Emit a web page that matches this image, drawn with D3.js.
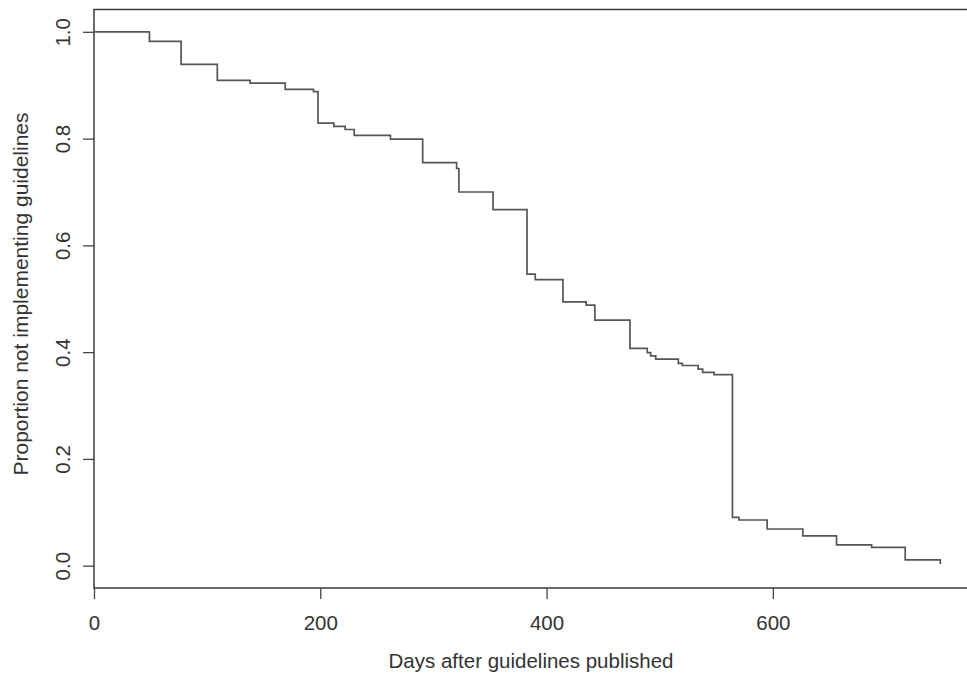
<!DOCTYPE html>
<html>
<head>
<meta charset="utf-8">
<script src="https://cdn.jsdelivr.net/npm/d3@7"></script>
<style>
  body { margin: 0; background: #fff; }
  text { font-family: "Liberation Sans", Arial, sans-serif; fill: #333; }
</style>
</head>
<body>
<svg id="chart"></svg>
<script>
// step times (days) and proportion not implementing after each step
var days = [0, 49, 77, 109, 138, 169, 194, 198, 212, 222, 230, 262, 290.5, 320.5, 322.5,
  352.7, 382.7, 390, 414.5, 435, 442.7, 473.7, 489, 492, 496.5, 516.5, 520, 534, 538, 548,
  564.3, 570, 595, 626.5, 656.3, 687.3, 717, 748];
var proportion = [1.0, 0.982, 0.939, 0.909, 0.904, 0.892, 0.888, 0.829, 0.823, 0.817, 0.806,
  0.799, 0.755, 0.744, 0.700, 0.667, 0.546, 0.536, 0.494, 0.488, 0.460, 0.407, 0.399, 0.393,
  0.387, 0.379, 0.375, 0.368, 0.362, 0.358, 0.0906, 0.0856, 0.0687, 0.056, 0.0388, 0.0344,
  0.0107, 0.003];

var xTicks = [0, 200, 400, 600];
var yTicks = [0, 0.2, 0.4, 0.6, 0.8, 1.0];

var width = 967, height = 679;
var plotLeft = 94, plotRight = 968, plotTop = 9.5, plotBottom = 588;

var svg = d3.select("#chart")
    .attr("width", width)
    .attr("height", height);

var x = d3.scaleLinear()
    .domain([0, 772.5])
    .range([plotLeft, plotRight]);

var y = d3.scaleLinear()
    .domain([-0.0418, 1.0418])
    .range([plotBottom, plotTop]);

var data = days.map(function(d, i){ return {t: d, p: proportion[i]}; });

// plot box
svg.append("rect")
    .attr("x", plotLeft)
    .attr("y", plotTop)
    .attr("width", plotRight - plotLeft)
    .attr("height", plotBottom - plotTop)
    .attr("fill", "none")
    .attr("stroke", "#3a3a3a")
    .attr("stroke-width", 1.5);

// survival curve
var line = d3.line()
    .x(function(d){ return x(d.t); })
    .y(function(d){ return y(d.p); })
    .curve(d3.curveStepAfter);

svg.append("path")
    .datum(data)
    .attr("d", line)
    .attr("fill", "none")
    .attr("stroke", "#555")
    .attr("stroke-width", 1.7);

// x axis
var xAxis = svg.append("g")
    .attr("transform", "translate(0," + plotBottom + ")")
    .call(d3.axisBottom(x).tickValues(xTicks).tickSize(11).tickPadding(16).tickFormat(d3.format("d")));
xAxis.select(".domain").remove();
xAxis.selectAll("line").attr("stroke", "#444").attr("stroke-width", 1.3);
xAxis.selectAll("text")
    .style("font-size", "20.5px")
    .style("fill", "#333")
    .attr("font-family", null);

// y axis, labels rotated like base R
var yAxis = svg.append("g")
    .attr("transform", "translate(" + plotLeft + ",0)")
    .call(d3.axisLeft(y).tickValues(yTicks).tickSize(11).tickFormat(d3.format(".1f")));
yAxis.select(".domain").remove();
yAxis.selectAll("line").attr("stroke", "#444").attr("stroke-width", 1.3);
yAxis.selectAll("text")
    .attr("x", null)
    .attr("dy", null)
    .attr("transform", "translate(-24,0) rotate(-90)")
    .attr("text-anchor", "middle")
    .style("font-size", "20.5px")
    .style("fill", "#333");

// axis titles
svg.append("text")
    .attr("x", (plotLeft + plotRight) / 2)
    .attr("y", 668)
    .attr("text-anchor", "middle")
    .style("font-size", "20.5px")
    .text("Days after guidelines published");

svg.append("text")
    .attr("transform", "translate(28," + 294 + ") rotate(-90)")
    .attr("text-anchor", "middle")
    .style("font-size", "21px")
    .text("Proportion not implementing guidelines");
</script>
</body>
</html>
